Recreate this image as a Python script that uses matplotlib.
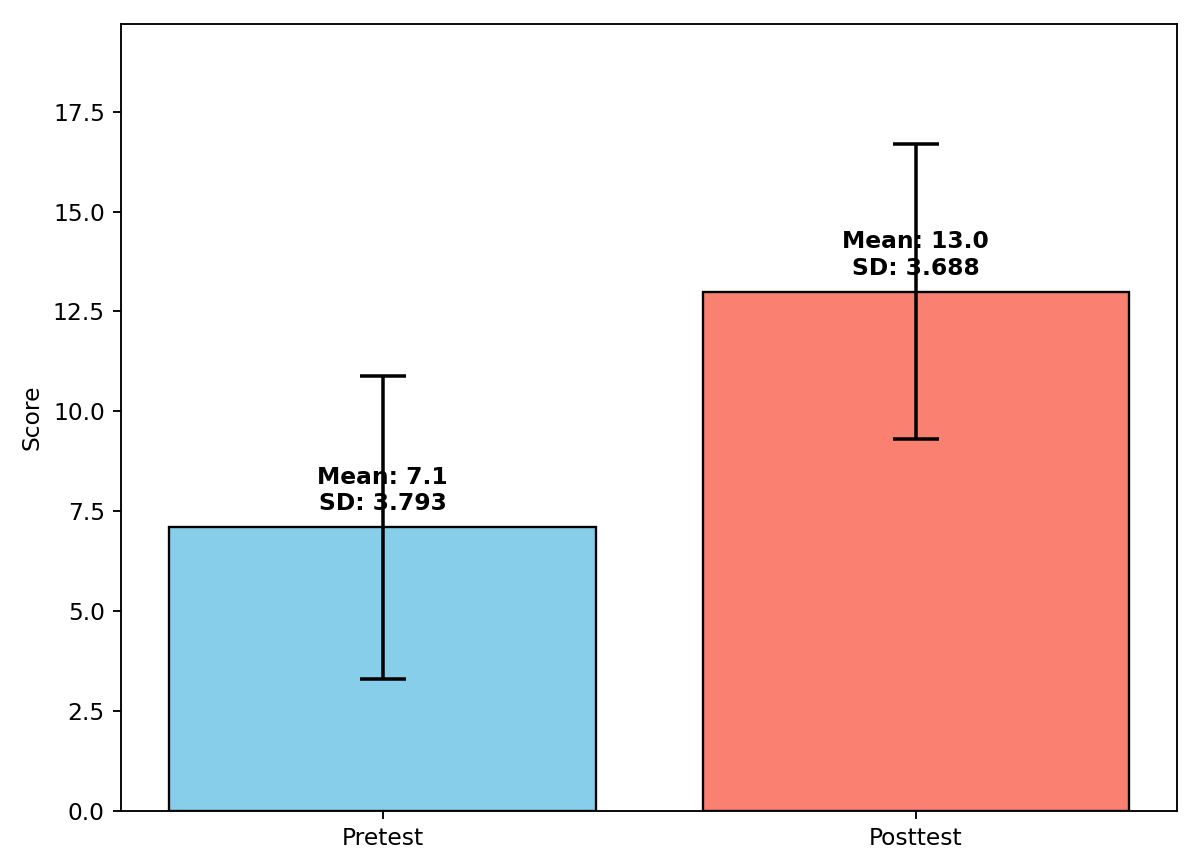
import matplotlib
matplotlib.use("Agg")
from matplotlib import pyplot as plt

groups = ["Pretest", "Posttest"]
means = [7.1, 13.0]
sds = [3.793, 3.688]
colors = ["skyblue", "salmon"]

dpi = 168
fig, ax = plt.subplots(figsize=(1200 / dpi, 867 / dpi), dpi=dpi)
bars = ax.bar(groups, means, yerr=sds, capsize=10, color=colors,
              edgecolor="black", error_kw={"elinewidth": 1.5, "capthick": 1.5})

for bar, m, s in zip(bars, means, sds):
    ax.text(bar.get_x() + bar.get_width() / 2, m + 0.3,
            f"Mean: {m:.1f}\nSD: {s:.3f}", ha="center", va="bottom",
            fontweight="bold", fontsize=10)

ax.set_ylabel("Score")
ax.set_ylim(0, max(m + s for m, s in zip(means, sds)) * 1.18)

fig.subplots_adjust(left=0.101, right=0.981, bottom=0.065, top=0.972)
fig.savefig("out.png", dpi=dpi)
